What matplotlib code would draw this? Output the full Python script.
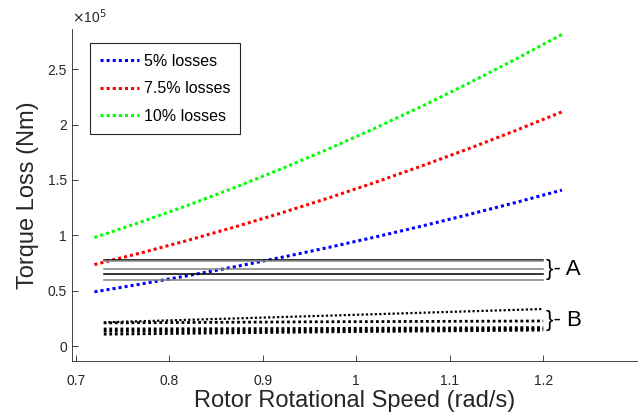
import matplotlib
matplotlib.use("Agg")
import matplotlib.pyplot as plt

plt.rcParams['font.family'] = ['Liberation Sans', 'DejaVu Sans']

# rotor speed (rad/s) for the loss curves
speed = [0.72, 0.77, 0.82, 0.87, 0.92, 0.97, 1.02, 1.07, 1.12, 1.17, 1.22]
loss_5 = [49000, 56100, 63600, 71600, 80100, 89000, 98400, 108300, 118700, 129500, 140800]
loss_75 = [73600, 84200, 95500, 107500, 120200, 133600, 147700, 162600, 178100, 194400, 211400]
loss_10 = [98000, 112100, 127100, 143100, 160000, 177800, 196600, 216400, 237100, 258700, 281300]

# group A: flat reference levels
a_x = [0.73, 1.2]
a_levels = [78000, 76800, 69500, 65500, 59500]
a_colors = ['k', '0.55', '0.5', 'k', '0.5']

# group B: dotted low curves
b_x = [0.73, 0.965, 1.2]
b_lines = [
    [21500, 27400, 33500],
    [21000, 22000, 22700],
    [15500, 16000, 16800],
    [13500, 14300, 15600],
    [10800, 12900, 14500],
]

fig = plt.figure(figsize=(6.41, 4.17), dpi=100)
ax = fig.add_axes([0.1123, 0.134, 0.881, 0.796])

dots = (0, (1, 1))
ax.plot(speed, loss_5, color='b', lw=2.2, ls=dots, dash_capstyle='butt', label='5% losses')
ax.plot(speed, loss_75, color='r', lw=2.2, ls=dots, dash_capstyle='butt', label='7.5% losses')
ax.plot(speed, loss_10, color='#00ff00', lw=2.2, ls=dots, dash_capstyle='butt', label='10% losses')

for lvl, c in zip(a_levels, a_colors):
    ax.plot(a_x, [lvl, lvl], color=c, lw=1.1)

for i, vals in enumerate(b_lines):
    ax.plot(b_x, vals, color='k', lw=1.6 if i == 0 else 2.0, ls=dots, dash_capstyle='butt')

ax.text(1.203, 69500, '}- A', fontsize=16, va='center', ha='left')
ax.text(1.203, 23500, '}- B', fontsize=16, va='center', ha='left')

ax.set_xlim(0.696, 1.3)
ax.set_ylim(-13500, 286000)
ax.set_xticks([0.7, 0.8, 0.9, 1.0, 1.1, 1.2])
ax.set_xticklabels(['0.7', '0.8', '0.9', '1', '1.1', '1.2'])
ax.set_yticks([0, 50000, 100000, 150000, 200000, 250000])
ax.set_yticklabels(['0', '0.5', '1', '1.5', '2', '2.5'])
ax.tick_params(direction='in', length=4, width=0.6, labelsize=10, colors='0.15')
ax.tick_params(axis='x', pad=9)
ax.spines['top'].set_visible(False)
ax.spines['right'].set_visible(False)
for s in ['left', 'bottom']:
    ax.spines[s].set_color('0.15')
    ax.spines[s].set_linewidth(0.6)

ax.text(0.0, 1.01, r'$\times$10$^5$', transform=ax.transAxes, fontsize=10, color='0.15',
        ha='left', va='bottom')
ax.set_xlabel('Rotor Rotational Speed (rad/s)', fontsize=17, color='0.15', labelpad=2)
ax.set_ylabel('Torque Loss (Nm)', fontsize=17, color='0.15', labelpad=6)

leg = ax.legend(loc='upper left', bbox_to_anchor=(0.032, 0.958), borderaxespad=0, fontsize=11.5,
                handlelength=2.4, handletextpad=0.3, labelspacing=0.8, borderpad=0.65,
                fancybox=False, framealpha=1, edgecolor='0.15')
leg.get_frame().set_linewidth(0.8)

fig.savefig('out.png', dpi=100)
